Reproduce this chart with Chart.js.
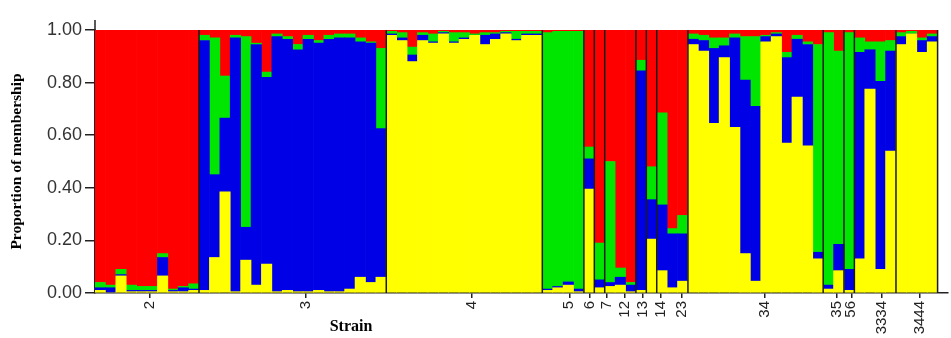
<!DOCTYPE html>
<html>
<head>
<meta charset="utf-8">
<script src="https://cdn.jsdelivr.net/npm/chart.js@4.4.1/dist/chart.umd.min.js"></script>
<style>
  html, body { margin: 0; padding: 0; background: #fff; }
  #wrap { width: 951px; height: 338px; }
</style>
</head>
<body>
<div id="wrap"><canvas id="myChart"></canvas></div>
<script>
const ctx = document.getElementById('myChart');

// strains and how many individuals each one has
const groups = ['2', '3', '4', '5', '6', '7', '12', '13', '14', '23', '34', '35', '56', '3334', '3444'];
const groupSizes = [10, 18, 15, 4, 1, 1, 3, 1, 1, 3, 13, 2, 1, 4, 4];
// where each strain label sits, in individual units (0 = first bar)
const labelPos = [4.8, 19.8, 35.7, 45.1, 47.1, 48.7, 50.4, 52.2, 53.9, 55.9, 63.9, 70.8, 72.2, 75.1, 78.8];

const yTicks = [0, 0.2, 0.4, 0.6, 0.8, 1.0];

// membership per individual, bottom to top: yellow, blue, green, red
const yellow = [
    0.01, 0.00, 0.065, 0.005, 0.005, 0.005, 0.065, 0.005, 0.005, 0.01,
    0.01, 0.135, 0.385, 0.005, 0.125, 0.03, 0.11, 0.005, 0.01, 0.005,
    0.005, 0.01, 0.005, 0.005, 0.015, 0.06, 0.04, 0.06,
    0.98, 0.96, 0.88, 0.96, 0.95, 0.985, 0.95, 0.965, 0.98, 0.945,
    0.965, 0.985, 0.96, 0.98, 0.98,
    0.01, 0.02, 0.03, 0.005,
    0.395, 0.02, 0.025, 0.03, 0.005, 0.01, 0.205, 0.085, 0.02, 0.045,
    0.945, 0.92, 0.645, 0.895, 0.63, 0.15, 0.045, 0.955, 0.975, 0.57,
    0.745, 0.56, 0.13,
    0.015, 0.085, 0.01,
    0.13, 0.775, 0.09, 0.54,
    0.945, 0.985, 0.915, 0.955
];
const blue = [
    0.01, 0.02, 0.005, 0.005, 0.005, 0.005, 0.07, 0.005, 0.015, 0.005,
    0.95, 0.315, 0.28, 0.965, 0.125, 0.915, 0.71, 0.97, 0.955, 0.92,
    0.96, 0.94, 0.96, 0.965, 0.955, 0.895, 0.91, 0.565,
    0.005, 0.01, 0.025, 0.02, 0.005, 0.005, 0.005, 0.005, 0.0, 0.035,
    0.02, 0.005, 0.005, 0.005, 0.005,
    0.005, 0.005, 0.012, 0.01,
    0.115, 0.03, 0.015, 0.03, 0.025, 0.835, 0.15, 0.25, 0.205, 0.18,
    0.02, 0.04, 0.285, 0.045, 0.34, 0.66, 0.665, 0.02, 0.01, 0.325,
    0.22, 0.385, 0.025,
    0.015, 0.1, 0.08,
    0.785, 0.15, 0.715, 0.38,
    0.03, 0.0, 0.045, 0.02
];
const green = [
    0.02, 0.01, 0.02, 0.02, 0.015, 0.015, 0.015, 0.005, 0.005, 0.02,
    0.02, 0.52, 0.16, 0.01, 0.725, 0.005, 0.02, 0.01, 0.01, 0.02,
    0.015, 0.01, 0.015, 0.015, 0.015, 0.015, 0.005, 0.305,
    0.01, 0.02, 0.03, 0.01, 0.03, 0.005, 0.035, 0.02, 0.005, 0.01,
    0.005, 0.005, 0.03, 0.01, 0.01,
    0.975, 0.97, 0.953, 0.98,
    0.045, 0.14, 0.46, 0.035, 0.01, 0.04, 0.125, 0.35, 0.02, 0.07,
    0.02, 0.02, 0.04, 0.03, 0.015, 0.165, 0.265, 0.005, 0.005, 0.02,
    0.015, 0.01, 0.79,
    0.96, 0.735, 0.9,
    0.055, 0.03, 0.15, 0.04,
    0.015, 0.01, 0.01, 0.01
];
const red = [
    0.96, 0.97, 0.91, 0.97, 0.975, 0.975, 0.85, 0.985, 0.975, 0.965,
    0.02, 0.03, 0.175, 0.02, 0.025, 0.05, 0.16, 0.015, 0.025, 0.055,
    0.02, 0.04, 0.02, 0.015, 0.015, 0.03, 0.045, 0.07,
    0.005, 0.01, 0.065, 0.01, 0.015, 0.005, 0.01, 0.01, 0.015, 0.01,
    0.01, 0.005, 0.005, 0.005, 0.005,
    0.01, 0.005, 0.005, 0.005,
    0.445, 0.81, 0.5, 0.905, 0.96, 0.115, 0.52, 0.315, 0.755, 0.705,
    0.015, 0.02, 0.03, 0.03, 0.015, 0.025, 0.025, 0.02, 0.01, 0.085,
    0.02, 0.045, 0.055,
    0.01, 0.08, 0.01,
    0.03, 0.045, 0.045, 0.04,
    0.01, 0.005, 0.03, 0.015
];

// one slot per individual plus an empty one where the axis runs on
const nIndividuals = groupSizes.reduce((a, b) => a + b, 0);
const individuals = Array.from({ length: nIndividuals + 1 }, (_, i) => String(i + 1));

// black lines between strains, plus the short stub of the y axis above 1.00
const groupLines = {
    id: 'groupLines',
    afterDatasetsDraw(chart) {
        const x = chart.scales.x, y = chart.scales.y, c = chart.ctx;
        const half = (x.getPixelForValue(1) - x.getPixelForValue(0)) / 2;
        c.save();
        c.strokeStyle = '#1a1a1a';
        c.lineWidth = 1.5;
        let n = 0;
        groupSizes.forEach(size => {
            n += size;
            const px = x.getPixelForValue(n - 1) + half;
            c.beginPath();
            c.moveTo(px, y.getPixelForValue(0));
            c.lineTo(px, y.getPixelForValue(1));
            c.stroke();
        });
        c.strokeStyle = '#222';
        c.beginPath();
        c.moveTo(chart.chartArea.left, y.getPixelForValue(1));
        c.lineTo(chart.chartArea.left, y.getPixelForValue(1) - 10);
        c.stroke();
        c.restore();
    }
};

// x axis title sits left of centre in the original
const strainTitle = {
    id: 'strainTitle',
    afterDraw(chart) {
        const c = chart.ctx;
        c.save();
        c.font = 'bold 16px "Liberation Serif", "Times New Roman", serif';
        c.fillStyle = '#000';
        c.textAlign = 'center';
        c.textBaseline = 'alphabetic';
        c.fillText('Strain', 351, 331);
        c.restore();
    }
};

const myChart = new Chart(ctx, {
    type: 'bar',
    data: {
        labels: individuals,
        datasets: [
            { label: 'yellow', data: yellow, backgroundColor: 'rgb(255, 255, 0)' },
            { label: 'blue', data: blue, backgroundColor: 'rgb(0, 0, 230)' },
            { label: 'green', data: green, backgroundColor: 'rgb(0, 230, 0)' },
            { label: 'red', data: red, backgroundColor: 'rgb(255, 0, 0)' }
        ]
    },
    options: {
        responsive: true,
        maintainAspectRatio: false,
        animation: false,
        layout: { padding: { left: 8, top: 30, right: 3, bottom: 0 } },
        plugins: {
            legend: { display: false },
            tooltip: { enabled: false }
        },
        datasets: {
            bar: { barPercentage: 1, categoryPercentage: 1, borderWidth: 0 }
        },
        scales: {
            x: {
                stacked: true,
                display: false
            },
            strain: {
                type: 'linear',
                position: 'bottom',
                offset: false,
                min: -0.5,
                max: nIndividuals + 0.5,
                afterBuildTicks: s => { s.ticks = labelPos.map(v => ({ value: v })); },
                grid: { offset: false, drawOnChartArea: false, tickLength: 5, lineWidth: 1.5, color: '#222' },
                border: { color: '#222', width: 1.5 },
                ticks: {
                    autoSkip: false,
                    minRotation: 90,
                    maxRotation: 90,
                    padding: 3,
                    color: '#222',
                    font: { family: '"Liberation Sans", Arial, sans-serif', size: 15 },
                    callback: (v, i) => groups[i]
                },
                afterFit: s => { s.height = 45; s.paddingLeft = 0; s.paddingRight = 0; }
            },
            y: {
                stacked: true,
                min: 0,
                max: 1,
                afterBuildTicks: s => { s.ticks = yTicks.map(v => ({ value: v })); },
                grid: { drawOnChartArea: false, tickLength: 10, color: '#222', lineWidth: 1.5 },
                border: { color: '#222', width: 1.5 },
                ticks: {
                    padding: 3,
                    color: '#333',
                    font: { family: '"Liberation Sans", Arial, sans-serif', size: 18 },
                    callback: v => Number(v).toFixed(2)
                },
                title: {
                    display: true,
                    text: 'Proportion of membership',
                    color: '#000',
                    font: { family: '"Liberation Serif", "Times New Roman", serif', size: 15.5, weight: 'bold' },
                    padding: { top: 0, bottom: 0 }
                },
                afterFit: s => { s.width = 87; }
            }
        }
    },
    plugins: [groupLines, strainTitle]
});
</script>
</body>
</html>
